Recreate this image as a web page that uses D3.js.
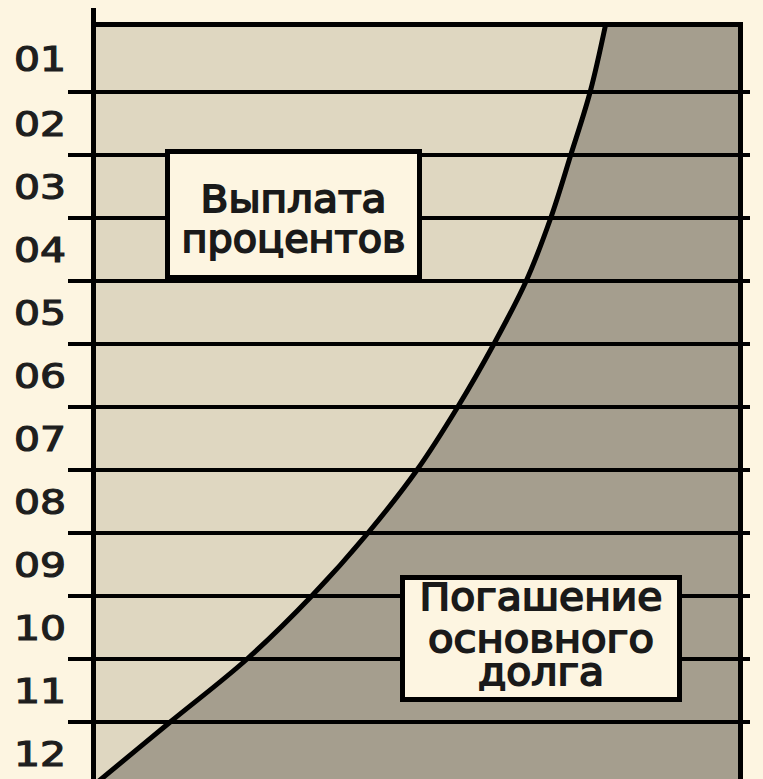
<!DOCTYPE html>
<html>
<head>
<meta charset="utf-8">
<script src="https://cdn.jsdelivr.net/npm/d3@7"></script>
<style>
  html, body { margin: 0; padding: 0; background: #fdf5e1; }
  svg { display: block; }
  text { font-family: "DejaVu Sans", sans-serif; }
</style>
</head>
<body>
<svg id="chart" width="763" height="779"></svg>
<script>
// ---- data ----
const periods = ["01","02","03","04","05","06","07","08","09","10","11","12"];
// row boundaries 0..12 (top of period 01 to bottom of period 12)
const boundaries = [0,1,2,3,4,5,6,7,8,9,10,11,12];
// share of the payment that is interest (%) at each boundary
const interestShare = [79.2, 76.8, 73.8, 70.7, 66.9, 61.9, 56.3, 50.0, 42.4, 33.7, 23.7, 11.8, 0];
const interestLabel = ["Выплата", "процентов"];
const principalLabel = ["Погашение", "основного", "долга"];

// ---- layout ----
const W = 763, H = 779;
const BG = "#fdf5e1", LIGHT = "#dfd7c1", DARK = "#a59e8e";
const svg = d3.select("#chart");
svg.append("rect").attr("width", W).attr("height", H).attr("fill", BG);

const x = d3.scaleLinear().domain([0, 100]).range([94, 740]);
const y = d3.scaleLinear().domain([0, 1, 11, 12]).range([24.5, 92, 722, 785]);

const pts = boundaries.map((b, i) => ({ b, v: interestShare[i] }));
const curve = d3.curveCatmullRom.alpha(0.5);

const clip = svg.append("defs").append("clipPath").attr("id", "plot");
clip.append("rect").attr("x", x(0)).attr("y", y(0)).attr("width", x(100) - x(0)).attr("height", y(12) - y(0));

const g = svg.append("g").attr("clip-path", "url(#plot)");

const lightArea = d3.area().curve(curve)
  .y(d => y(d.b)).x0(() => x(0)).x1(d => x(d.v));

g.append("rect").attr("x", x(0)).attr("y", y(0)).attr("width", x(100) - x(0))
  .attr("height", y(12) - y(0)).attr("fill", DARK);
g.append("path").datum(pts).attr("d", lightArea).attr("fill", LIGHT);

// grid lines at inner boundaries
svg.append("g").selectAll("line").data(boundaries.slice(1, 12)).join("line")
  .attr("x1", 68).attr("x2", 750)
  .attr("y1", d => y(d)).attr("y2", d => y(d))
  .attr("stroke", "#000").attr("stroke-width", 4);

// curve
const line = d3.line().curve(curve).y(d => y(d.b)).x(d => x(d.v));
g.append("path").datum(pts).attr("d", line).attr("fill", "none")
  .attr("stroke", "#000").attr("stroke-width", 5);

// frame
svg.append("line").attr("x1", x(0) - 3).attr("x2", x(100) + 3).attr("y1", y(0)).attr("y2", y(0))
  .attr("stroke", "#000").attr("stroke-width", 5);
svg.append("line").attr("x1", x(0) - 0.5).attr("x2", x(0) - 0.5).attr("y1", 8).attr("y2", y(12))
  .attr("stroke", "#000").attr("stroke-width", 5);
svg.append("line").attr("x1", x(100) + 0.5).attr("x2", x(100) + 0.5).attr("y1", y(0) - 2.5).attr("y2", y(12))
  .attr("stroke", "#000").attr("stroke-width", 5);

// period labels
svg.append("g").selectAll("text").data(periods).join("text")
  .attr("x", 40)
  .attr("y", (d, i) => y(i + 0.5))
  .attr("dy", "0.365em")
  .attr("text-anchor", "middle")
  .attr("font-size", 34)
  .attr("fill", "#1e1e1e")
  .attr("stroke", "#1e1e1e")
  .attr("stroke-width", 1.2)
  .attr("textLength", 52)
  .attr("lengthAdjust", "spacingAndGlyphs")
  .text(d => d);

// annotation boxes
function box(bx, by, bw, bh, lines, baselines, widths) {
  const gg = svg.append("g");
  gg.append("rect").attr("x", bx).attr("y", by).attr("width", bw).attr("height", bh)
    .attr("fill", BG).attr("stroke", "#000").attr("stroke-width", 5);
  gg.selectAll("text").data(lines).join("text")
    .attr("transform", (d, i) => `translate(${bx + bw / 2},${baselines[i]}) scale(1,1.35)`)
    .attr("text-anchor", "middle")
    .attr("font-size", 28)
    .attr("fill", "#1a1a1a")
    .attr("stroke", "#1a1a1a")
    .attr("stroke-width", 1.3)
    .attr("textLength", (d, i) => widths[i])
    .attr("lengthAdjust", "spacingAndGlyphs")
    .text(d => d);
}
box(167.5, 151.5, 252, 126, interestLabel, [212, 252], [186, 224]);
box(402.5, 577.5, 277, 122, principalLabel, [610, 652, 685], [243, 226, 126]);
</script>
</body>
</html>
